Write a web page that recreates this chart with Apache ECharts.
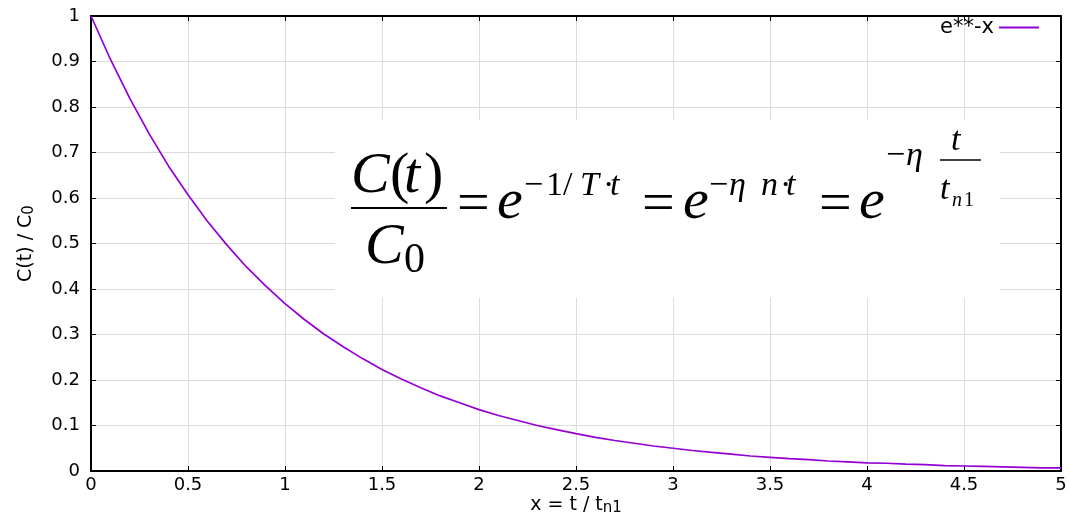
<!DOCTYPE html>
<html>
<head>
<meta charset="utf-8">
<script src="https://cdn.jsdelivr.net/npm/echarts@6/dist/echarts.min.js"></script>
<style>
html,body{margin:0;padding:0;background:#fff;}
#chart{width:1069px;height:515px;}
</style>
</head>
<body>
<div id="chart"></div>
<script>
// ---- data ----
var xValues = [0,0.1,0.2,0.3,0.4,0.5,0.6,0.7,0.8,0.9,1.0,1.1,1.2,1.3,1.4,1.5,1.6,1.7,1.8,1.9,2.0,2.1,2.2,2.3,2.4,2.5,2.6,2.7,2.8,2.9,3.0,3.1,3.2,3.3,3.4,3.5,3.6,3.7,3.8,3.9,4.0,4.1,4.2,4.3,4.4,4.5,4.6,4.7,4.8,4.9,5.0];
var yValues = [1.000,0.905,0.819,0.741,0.670,0.607,0.549,0.497,0.449,0.407,0.368,0.333,0.301,0.273,0.247,0.223,0.202,0.183,0.165,0.150,0.135,0.122,0.111,0.100,0.091,0.082,0.074,0.067,0.061,0.055,0.050,0.045,0.041,0.037,0.033,0.030,0.027,0.025,0.022,0.020,0.018,0.017,0.015,0.014,0.012,0.011,0.010,0.009,0.008,0.007,0.007];
var seriesName = 'e**-x';
var xAxisTitle = 'x = t / t';
var xAxisTitleSub = 'n1';
var yAxisTitle = 'C(t) / C';
var yAxisTitleSub = '0';

var points = xValues.map(function (x, i) { return [x, yValues[i]]; });

var LABEL_FONT = '"DejaVu Sans", Verdana, sans-serif';
var SERIF = '"Liberation Serif", "Times New Roman", serif';

// formula glyph helper (x = left, b = baseline)
function G(x, b, text, size, italic) {
  return {
    type: 'text', x: x, y: b - 0.3375 * size, z: 10,
    style: {
      text: text,
      font: (italic ? 'italic ' : '') + size + 'px ' + SERIF,
      fill: '#000',
      textAlign: 'left',
      textVerticalAlign: 'middle'
    }
  };
}
function BAR(x1, x2, y, w) {
  return { type: 'line', z: 10, shape: { x1: x1, y1: y, x2: x2, y2: y }, style: { stroke: '#000', lineWidth: w } };
}

var M = 58, S = 34;
var formula = [
  { type: 'rect', z: 5, shape: { x: 335, y: 120, width: 665, height: 178 }, style: { fill: '#fff' } },
  G(351, 196, 'C', M, true), G(390, 196, '(', M, false), G(404, 196, 't', M, true), G(424, 196, ')', M, false),
  BAR(351, 447, 208, 2),
  G(365, 267, 'C', M, true), G(404, 275, '0', 42, false),
  G(457, 225, '=', M, false),
  G(497, 222, 'e', M, true),
  G(524, 198, '\u2212', S, false), G(546, 198, '1', S, false), G(563, 198, '/', S, false),
  G(580, 198, 'T', S, true), G(603, 198, '\u00b7', S, false), G(610, 198, 't', S, true),
  G(642, 225, '=', M, false),
  G(683, 222, 'e', M, true),
  G(709, 198, '\u2212', S, false), G(729, 198, '\u03b7', S, true), G(761, 198, 'n', S, true),
  G(780, 198, '\u00b7', S, false), G(786, 198, 't', S, true),
  G(819, 225, '=', M, false),
  G(859, 222, 'e', M, true),
  G(886, 168, '\u2212', S, false), G(906, 168, '\u03b7', S, true),
  G(951, 153, 't', S, true),
  BAR(940, 981, 160, 1.5),
  G(940, 202, 't', S, true), G(952, 207, 'n', 20, true), G(964, 207, '1', 20, false)
];

var chart = echarts.init(document.getElementById('chart'), null, { renderer: 'canvas' });
var axisLineStyle = { color: '#000', width: 2 };
chart.setOption({
  animation: false,
  backgroundColor: '#fff',
  grid: { left: 91, right: 8, top: 16, bottom: 44, containLabel: false, outerBoundsMode: 'none' },
  legend: {
    show: true, right: 25, top: 12, align: 'right', itemGap: 10,
    itemWidth: 40, itemHeight: 2, icon: 'rect',
    textStyle: { fontFamily: LABEL_FONT, fontSize: 21, color: '#000' },
    data: [seriesName]
  },
  xAxis: [{
    type: 'value', min: 0, max: 5, interval: 0.5, position: 'bottom',
    name: xAxisTitle + '{sub|' + xAxisTitleSub + '}', nameLocation: 'middle', nameGap: 23,
    nameMoveOverlap: false,
    nameTextStyle: { fontFamily: LABEL_FONT, fontSize: 19, color: '#000', lineHeight: 22,
      rich: { sub: { fontFamily: LABEL_FONT, fontSize: 15, color: '#000', lineHeight: 22, padding: [7, 0, 0, 0] } } },
    axisLine: { show: true, onZero: false, lineStyle: axisLineStyle },
    axisTick: { show: true, inside: true, length: 5, lineStyle: { color: '#000', width: 1 } },
    axisLabel: { fontFamily: LABEL_FONT, fontSize: 18, color: '#000', margin: 5 },
    splitLine: { show: true, lineStyle: { color: '#dcdcdc', width: 1 } }
  }, {
    type: 'value', min: 0, max: 5, interval: 0.5, position: 'top',
    axisLine: { show: true, onZero: false, lineStyle: axisLineStyle },
    axisTick: { show: true, inside: true, length: 5, lineStyle: { color: '#000', width: 1 } },
    axisLabel: { show: false }, splitLine: { show: false }
  }],
  yAxis: [{
    type: 'value', min: 0, max: 1, interval: 0.1, position: 'left',
    name: yAxisTitle + '{sub|' + yAxisTitleSub + '}', nameLocation: 'middle', nameGap: 54, nameRotate: 90,
    nameTextStyle: { fontFamily: LABEL_FONT, fontSize: 19, color: '#000', lineHeight: 22,
      rich: { sub: { fontFamily: LABEL_FONT, fontSize: 15, color: '#000', lineHeight: 22, padding: [7, 0, 0, 0] } } },
    axisLine: { show: true, onZero: false, lineStyle: axisLineStyle },
    axisTick: { show: true, inside: true, length: 5, lineStyle: { color: '#000', width: 1 } },
    axisLabel: { fontFamily: LABEL_FONT, fontSize: 18, color: '#000', margin: 11 },
    splitLine: { show: true, lineStyle: { color: '#dcdcdc', width: 1 } }
  }, {
    type: 'value', min: 0, max: 1, interval: 0.1, position: 'right',
    axisLine: { show: true, onZero: false, lineStyle: axisLineStyle },
    axisTick: { show: true, inside: true, length: 5, lineStyle: { color: '#000', width: 1 } },
    axisLabel: { show: false }, splitLine: { show: false }
  }],
  graphic: formula,
  series: [{
    name: seriesName, type: 'line', xAxisIndex: 0, yAxisIndex: 0,
    data: points, showSymbol: false, symbol: 'none',
    lineStyle: { color: '#9400d3', width: 1.7 }, itemStyle: { color: '#9400d3' },
    z: 3
  }]
});
</script>
</body>
</html>
